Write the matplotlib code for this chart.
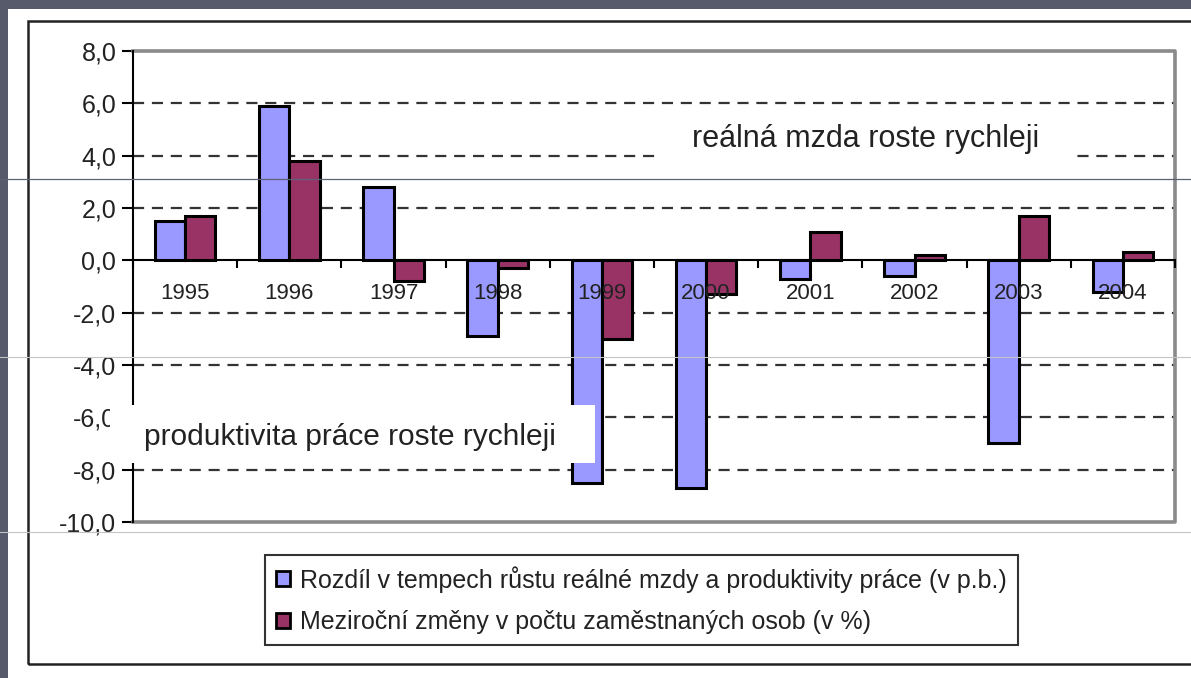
# -*- coding: utf-8 -*-
# graf: rozdíl v tempech růstu reálné mzdy a produktivity práce, 1995-2004

import numpy as np
import matplotlib.pyplot as plt
from matplotlib.patches import Rectangle
from matplotlib.lines import Line2D

# %% ======================= data ==========================================

roky = ['1995', '1996', '1997', '1998', '1999', '2000', '2001', '2002', '2003', '2004']
rozdil = [1.5, 5.9, 2.8, -2.9, -8.5, -8.7, -0.7, -0.6, -7.0, -1.2]
zamestnanost = [1.7, 3.8, -0.8, -0.3, -3.0, -1.3, 1.1, 0.2, 1.7, 0.3]

y_hodnoty = [8, 6, 4, 2, 0, -2, -4, -6, -8, -10]
y_popisky = ['8,0', '6,0', '4,0', '2,0', '0,0', '-2,0', '-4,0', '-6,0', '-8,0', '-10,0']
mrizka = [6, 4, 2, -2, -4, -6, -8]

legenda = ['Rozdíl v tempech růstu reálné mzdy a produktivity práce (v p.b.)',
           'Meziroční změny v počtu zaměstnaných osob (v %)']
popis_nahore = 'reálná mzda roste rychleji'
popis_dole = 'produktivita práce roste rychleji'

modra = '#9999ff'
vinova = '#993366'

# %% ================= pomocné převody (pixely -> figura) ===================

W, H = 1191, 678


def fx(px):
    return px / W


def fy(py):
    return 1 - py / H


plt.rcParams['font.family'] = ['Liberation Sans', 'DejaVu Sans']

fig = plt.figure(figsize=(W / 100, H / 100), dpi=100)
fig.patch.set_facecolor('white')

# pozadí snímku (tmavé okraje) a rámeček grafu
fig.patches.append(Rectangle((0, fy(9)), 1, 9 / H, transform=fig.transFigure,
                             facecolor='#575a6b', edgecolor='none', zorder=0))
fig.patches.append(Rectangle((0, 0), fx(8), 1, transform=fig.transFigure,
                             facecolor='#575a6b', edgecolor='none', zorder=0))
fig.patches.append(Rectangle((fx(28), fy(664)), fx(1200) - fx(28), (664 - 21) / H,
                             transform=fig.transFigure, fill=False,
                             edgecolor='#222222', linewidth=1.8, zorder=0.5))

# %% ======================= osy a sloupce ==================================

ax = fig.add_axes([fx(133), fy(522), fx(1175) - fx(133), (522 - 51) / H])
ax.set_facecolor('none')

x = np.arange(len(roky))
w = 0.29
ax.bar(x - w / 2, rozdil, w, color=modra, edgecolor='black', linewidth=2.2, zorder=3)
ax.bar(x + w / 2, zamestnanost, w, color=vinova, edgecolor='black', linewidth=2.2, zorder=3)

for v in mrizka:
    ax.axhline(v, color='#333333', linewidth=1.6, linestyle=(0, (5, 3.5)), zorder=1)

ax.set_xlim(-0.5, 9.5)
ax.set_ylim(-10, 8)

# osa x prochází nulou
ax.spines['bottom'].set_position(('data', 0))
ax.spines['bottom'].set_linewidth(1.5)
ax.spines['left'].set_linewidth(1.5)
ax.spines['top'].set_visible(False)
ax.spines['right'].set_visible(False)
# šedý rámeček oblasti grafu
ax.plot([0, 1, 1, 0], [1, 1, 0, 0], transform=ax.transAxes, color='#8a8a8a',
        linewidth=2.6, clip_on=False, zorder=2)

ax.set_xticks(np.arange(-0.5, 10, 1))
ax.set_xticks(x, roky, minor=True)
ax.tick_params(axis='x', which='major', direction='out', length=6, width=1.5,
               labelbottom=False)
ax.tick_params(axis='x', which='minor', length=0, pad=16, labelsize=16,
               labelcolor='#222222')
ax.xaxis.set_zorder(5)

ax.set_yticks(y_hodnoty, y_popisky)
ax.tick_params(axis='y', direction='out', length=8, width=1.5, pad=4,
               labelsize=18, labelcolor='#222222')

# %% ======================= popisky v grafu ================================

fig.patches.append(Rectangle((fx(658), fy(172)), fx(1076) - fx(658), (172 - 112) / H,
                             transform=fig.transFigure, facecolor='white',
                             edgecolor='none', zorder=5))
fig.text(fx(866), fy(139), popis_nahore, ha='center', va='center', fontsize=22,
         color='#222222', zorder=6)

fig.patches.append(Rectangle((fx(110), fy(463)), fx(595) - fx(110), (463 - 405) / H,
                             transform=fig.transFigure, facecolor='white',
                             edgecolor='none', zorder=5))
fig.text(fx(350), fy(437), popis_dole, ha='center', va='center', fontsize=21.5,
         color='#222222', zorder=6)

# %% ======================= legenda =======================================

znacky = [Rectangle((0, 0), 1, 1, facecolor=modra, edgecolor='black', linewidth=2),
          Rectangle((0, 0), 1, 1, facecolor=vinova, edgecolor='black', linewidth=2)]
leg = fig.legend(znacky, legenda, loc='center', bbox_to_anchor=(fx(641), fy(600)),
                 frameon=True, fancybox=False, edgecolor='black', fontsize=18,
                 handlelength=0.55, handleheight=0.55, handletextpad=0.4,
                 labelspacing=0.7, borderpad=0.45, borderaxespad=0)
leg.get_frame().set_linewidth(1.5)
for t in leg.get_texts():
    t.set_color('#222222')

# %% ============ vodorovné čáry přes celý snímek ===========================

fig.add_artist(Line2D([0, 1], [fy(179), fy(179)], transform=fig.transFigure,
                      color='#5f6276', linewidth=0.9, zorder=8))
for py in [357, 532]:
    fig.add_artist(Line2D([0, 1], [fy(py), fy(py)], transform=fig.transFigure,
                          color='#c4c4c4', linewidth=0.8, zorder=8))

fig.savefig('out.png', dpi=100)
